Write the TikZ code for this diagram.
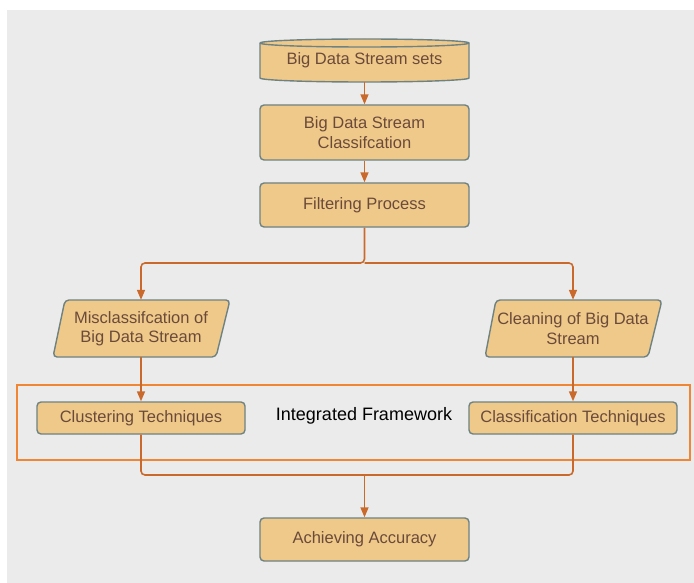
\documentclass[tikz,border=0pt]{standalone}
\usepackage{fontspec}
\setmainfont{Liberation Sans}
\usetikzlibrary{arrows.meta}
\definecolor{bgc}{HTML}{EBEBEB}
\definecolor{boxfill}{HTML}{EFC98A}
\definecolor{boxline}{HTML}{6E8282}
\definecolor{txtc}{HTML}{6B4A3A}
\definecolor{arrc}{HTML}{C96A2C}
\definecolor{framec}{HTML}{F08634}
\tikzset{
  boxstyle/.style={rectangle, rounded corners=4pt, draw=boxline, fill=boxfill, line width=1.4pt,
    text=txtc, align=center, font=\fontsize{16.5}{19.5}\selectfont, inner sep=2pt},
  ghost/.style={rectangle, text=txtc, align=center, font=\fontsize{16.5}{19.5}\selectfont, inner sep=0pt},
  shapeline/.style={draw=boxline, fill=boxfill, line width=1.4pt, rounded corners=4pt},
  conn/.style={draw=arrc, line width=1.6pt, rounded corners=4pt},
  arr/.style={conn, -{Triangle[length=10pt,width=8pt]}},
}
\begin{document}
\begin{tikzpicture}[x=1pt,y=-1pt]
\useasboundingbox (0,0) rectangle (694,583);
\fill[white] (0,0) rectangle (694,583);
\fill[bgc] (7,10) rectangle (694,583);

% cylinder
\path[fill=boxfill] (260,43) -- (260,78) arc[start angle=180,end angle=0,x radius=104.5,y radius=4] -- (469,43) arc[start angle=0,end angle=-180,x radius=104.5,y radius=4] -- cycle;
\draw[draw=boxline, line width=1.4pt] (260,43) -- (260,78) arc[start angle=180,end angle=0,x radius=104.5,y radius=4] -- (469,43) arc[start angle=0,end angle=-180,x radius=104.5,y radius=4];
\draw[draw=boxline, line width=1.4pt] (260,43) arc[start angle=180,end angle=0,x radius=104.5,y radius=4];
\node[ghost, minimum width=209pt, minimum height=43pt] (sets) at (364.5,60.5) {Big Data Stream sets};

\node[boxstyle, minimum width=209pt, minimum height=55pt] (classif) at (364.5,132.5) {Big Data Stream\\Classifcation};
\node[boxstyle, minimum width=209pt, minimum height=44pt] (filter) at (364.5,205) {Filtering Process};

% parallelograms
\draw[shapeline] (65,300) -- (230,300) -- (216,357) -- (53,357) -- cycle;
\node[ghost, minimum width=150pt, minimum height=57pt] (mis) at (141,328.5) {Misclassifcation of\\Big Data Stream};
\draw[shapeline] (496,300) -- (662,300) -- (648,357) -- (485,357) -- cycle;
\node[ghost, minimum width=150pt, minimum height=57pt] (clean) at (573,328.5) {Cleaning of Big Data\\Stream};

% framework
\draw[framec, line width=2pt] (17,385) rectangle (690,460);
\node[boxstyle, minimum width=208pt, minimum height=32pt] (clus) at (141,418) {Clustering Techniques};
\node[boxstyle, minimum width=208pt, minimum height=32pt] (clas) at (573,418) {Classification Techniques};
\node[font=\fontsize{18}{21}\selectfont, text=black] (integ) at (364,416) {Integrated Framework};

\node[boxstyle, minimum width=209pt, minimum height=43pt] (acc) at (364.5,539.5) {Achieving Accuracy};

% connectors
\draw[arr] (sets.south) -- (classif.north);
\draw[arr] (classif.south) -- (filter.north);
\coordinate (split) at (364.5,263);
\coordinate (merge) at (364.5,475);
\draw[arr] (filter.south) -- (split) -| (mis.north);
\draw[arr] (split) -| (clean.north);
\draw[arr] (mis.south) -- (clus.north);
\draw[arr] (clean.south) -- (clas.north);
\draw[conn] (clus.south) |- (merge) -| (clas.south);
\draw[arr] (merge) -- (acc.north);
\end{tikzpicture}
\end{document}
